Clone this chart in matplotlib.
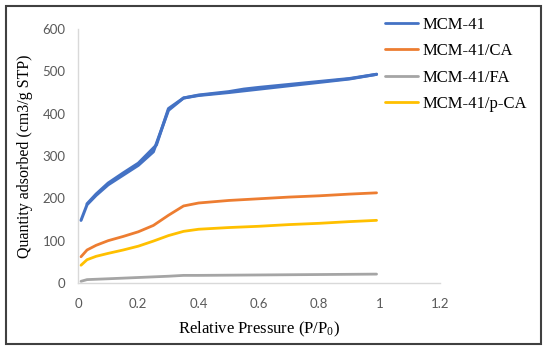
import matplotlib.pyplot as plt
from matplotlib.patches import Rectangle

plt.rcParams['mathtext.fontset'] = 'custom'
plt.rcParams['mathtext.rm'] = 'Liberation Serif'
plt.rcParams['mathtext.it'] = 'Liberation Serif:italic'

# ===================== Data =====================
p_mcm_ads = [0.01, 0.03, 0.06, 0.10, 0.15, 0.20, 0.25, 0.30, 0.35, 0.40, 0.50, 0.60, 0.70, 0.80, 0.90, 0.99]
q_mcm_ads = [148, 185, 207, 232, 255, 278, 310, 408, 437, 443, 450, 458, 466, 474, 482, 493]
p_mcm_des = [0.99, 0.90, 0.80, 0.70, 0.60, 0.55, 0.50, 0.40, 0.35, 0.30, 0.26, 0.20, 0.15, 0.10, 0.06, 0.03]
q_mcm_des = [493, 483, 476, 469, 462, 458, 452, 444, 437, 412, 326, 283, 260, 236, 210, 187]

p_ca = [0.01, 0.03, 0.06, 0.10, 0.15, 0.20, 0.25, 0.30, 0.35, 0.40, 0.50, 0.60, 0.70, 0.80, 0.90, 0.99]
q_ca = [62, 78, 89, 100, 110, 121, 136, 160, 182, 189, 195, 199, 203, 206, 210, 213]

p_fa = [0.01, 0.03, 0.10, 0.20, 0.30, 0.35, 0.40, 0.60, 0.80, 0.99]
q_fa = [4, 8, 10, 13, 16, 18, 18, 19, 20, 21]

p_pca = [0.01, 0.03, 0.06, 0.10, 0.15, 0.20, 0.25, 0.30, 0.35, 0.40, 0.50, 0.60, 0.70, 0.80, 0.90, 0.99]
q_pca = [42, 55, 63, 70, 78, 87, 99, 112, 122, 127, 131, 134, 138, 141, 145, 148]

x_ticks = [0, 0.2, 0.4, 0.6, 0.8, 1, 1.2]
y_ticks = [0, 100, 200, 300, 400, 500, 600]

# ===================== Figure =====================
fig = plt.figure(figsize=(5.5, 3.53), dpi=100, facecolor='white')
ax = fig.add_axes([0.1418, 0.1983, 0.658, 0.7195])

ax.plot(p_mcm_ads, q_mcm_ads, color='#4472C4', lw=2.2, label='MCM-41', solid_capstyle='round')
ax.plot(p_mcm_des, q_mcm_des, color='#4472C4', lw=2.2, solid_capstyle='round')
ax.plot(p_ca, q_ca, color='#ED7D31', lw=2.0, label='MCM-41/CA', solid_capstyle='round')
ax.plot(p_fa, q_fa, color='#A5A5A5', lw=2.0, label='MCM-41/FA', solid_capstyle='round')
ax.plot(p_pca, q_pca, color='#FFC000', lw=2.0, label='MCM-41/p-CA', solid_capstyle='round')

ax.set_xlim(0, 1.2)
ax.set_ylim(0, 600)
ax.set_xticks(x_ticks)
ax.set_xticklabels([f'{t:g}' for t in x_ticks])
ax.set_yticks(y_ticks)

for side in ['top', 'right']:
    ax.spines[side].set_visible(False)
for side in ['left', 'bottom']:
    ax.spines[side].set_color('#D9D9D9')
    ax.spines[side].set_linewidth(1.0)
ax.tick_params(length=0, labelsize=9.5, labelcolor='#595959', labelfontfamily='Lato')
ax.tick_params(axis='x', pad=11)
ax.tick_params(axis='y', pad=9)

ax.set_xlabel('Relative Pressure (P/P$_\\mathregular{0}$)', fontsize=12,
              family='Liberation Serif', labelpad=7)
ax.set_ylabel('Quantity adsorbed (cm3/g STP)', fontsize=11.5,
              family='Liberation Serif', labelpad=7)

leg = ax.legend(loc='upper left', bbox_to_anchor=(0.700, 0.952),
                bbox_transform=fig.transFigure, frameon=False,
                prop={'family': 'Liberation Serif', 'size': 12},
                handlelength=2.0, handletextpad=0.25, labelspacing=0.62,
                borderaxespad=0, borderpad=0)
for h in leg.get_lines():
    h.set_linewidth(2.0)

# outer frame around the whole picture
fig.add_artist(Rectangle((6 / 550, 9 / 353), 535 / 550, 338 / 353, transform=fig.transFigure,
                         fill=False, edgecolor='#404040', linewidth=1.5))

plt.savefig('out.png', dpi=100, facecolor='white')
plt.close()
